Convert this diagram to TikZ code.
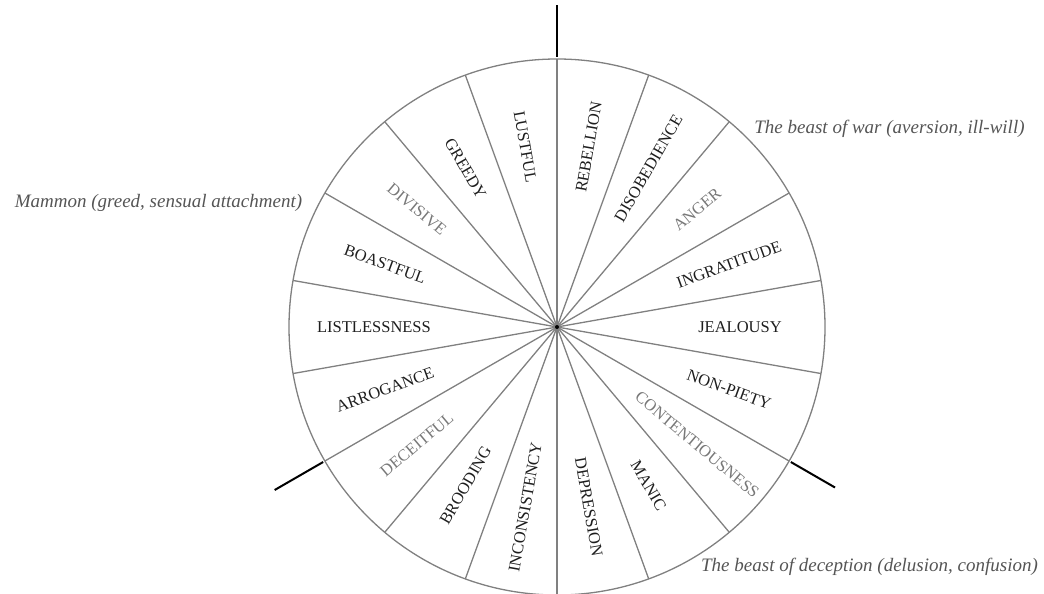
\documentclass[tikz,border=0pt]{standalone}
\usepackage{fontspec}
\setmainfont{Liberation Serif}
\usetikzlibrary{calc}
\definecolor{spoke}{RGB}{128,128,128}
\definecolor{darktxt}{RGB}{30,30,30}
\definecolor{lighttxt}{RGB}{120,120,120}
\definecolor{captxt}{RGB}{85,85,85}
\tikzset{
  wheel/.style={draw=spoke, line width=1.3pt},
  tick/.style={draw=black, line width=2pt},
  vice/.style={font=\fontsize{16.5}{18}\selectfont, inner sep=0pt},
  caption/.style={font=\fontsize{19}{22}\selectfont\itshape, text=captxt, inner sep=0pt},
}
\begin{document}
\begin{tikzpicture}[x=1pt,y=1pt]
\useasboundingbox (0,0) rectangle (1044,-594);
\coordinate (c) at (557,-327);
% outer circle
\draw[wheel] (c) circle (268);
% spokes
\foreach \a in {10,30,...,350} {
  \draw[wheel] (c) -- ++(\a:268) coordinate (s\a);
}
% ticks
\draw[tick] (c) ++(90:270) coordinate (t1a) -- ++(90:52) coordinate (t1b);
\draw[tick] (c) ++(210:270) coordinate (t2a) -- ++(210:56) coordinate (t2b);
\draw[tick] (c) ++(330:270) coordinate (t3a) -- ++(330:51) coordinate (t3b);
% hub
\fill[black] (c) circle (2);
% labels
\foreach \a/\txt/\col in {
  0/JEALOUSY/darktxt, 20/INGRATITUDE/darktxt, 40/ANGER/lighttxt,
  60/DISOBEDIENCE/darktxt, 80/REBELLION/darktxt, 100/LUSTFUL/darktxt,
  120/GREEDY/darktxt, 140/DIVISIVE/lighttxt, 160/BOASTFUL/darktxt,
  180/LISTLESSNESS/darktxt, 200/ARROGANCE/darktxt, 220/DECEITFUL/lighttxt,
  240/BROODING/darktxt, 260/INCONSISTENCY/darktxt, 280/DEPRESSION/darktxt,
  300/MANIC/darktxt, 320/CONTENTIOUSNESS/lighttxt, 340/NON-PIETY/darktxt} {
  \ifnum\a<91 \def\rot{\a}\else\ifnum\a>269 \def\rot{\a}\else\pgfmathsetmacro\rot{\a-180}\fi\fi
  \node[vice, text=\col, rotate=\rot] (v\a) at ($(c)+(\a:183)$) {\txt};
}
% captions
\node[caption] (mammon) at (158.5,-203) {Mammon (greed, sensual attachment)};
\node[caption] (war) at (889.5,-129) {The beast of war (aversion, ill-will)};
\node[caption] (decep) at (869.5,-567) {The beast of deception (delusion, confusion)};
\end{tikzpicture}
\end{document}
